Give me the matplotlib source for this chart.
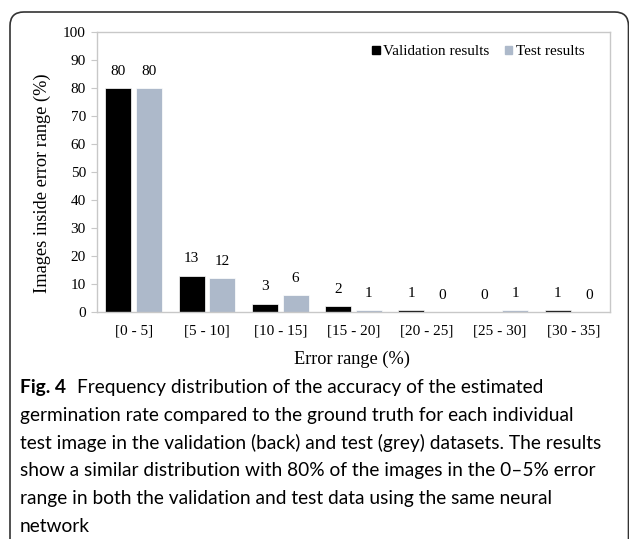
import matplotlib
matplotlib.use("Agg")
import matplotlib.pyplot as plt
import numpy as np
from matplotlib.patches import FancyBboxPatch, Patch

# data
categories = ["[0 - 5]", "[5 - 10]", "[10 - 15]", "[15 - 20]", "[20 - 25]", "[25 - 30]", "[30 - 35]"]
validation = [80, 13, 3, 2, 0.7, 0, 0.7]
test = [80, 12, 6, 0.6, 0, 0.6, 0]
validation_labels = ["80", "13", "3", "2", "1", "0", "1"]
test_labels = ["80", "12", "6", "1", "0", "1", "0"]

caption_lines = [
    "Frequency distribution of the accuracy of the estimated",
    "germination rate compared to the ground truth for each individual",
    "test image in the validation (back) and test (grey) datasets. The results",
    "show a similar distribution with 80% of the images in the 0\u20135% error",
    "range in both the validation and test data using the same neural",
    "network",
]

W, H = 629, 539
fig = plt.figure(figsize=(W / 100, H / 100), dpi=100)

# rounded frame around the whole figure
frame = FancyBboxPatch((10 / W, -0.2), (618.5 / W), 1.2 - 12 / H,
                       boxstyle="round,pad=0,rounding_size=0.022",
                       transform=fig.transFigure, fill=False,
                       edgecolor="#333333", linewidth=1.2, mutation_aspect=W / H)
fig.patches.append(frame)

serif = "Liberation Serif"
fs = 11
ax = fig.add_axes([97 / W, 1 - 312 / H, 513 / W, 280 / H])

x = np.arange(len(categories))
bw = 0.355
off = 0.21
b1 = ax.bar(x - off, validation, bw, color="#000000", edgecolor="white", linewidth=0.5)
b2 = ax.bar(x + off, test, bw, color="#adb9ca", edgecolor="white", linewidth=0.5)

for bars, labels in ((b1, validation_labels), (b2, test_labels)):
    for rect, lab in zip(bars, labels):
        ax.annotate(lab, (rect.get_x() + rect.get_width() / 2, rect.get_height()),
                    xytext=(0, 12), textcoords="offset points",
                    ha="center", va="center", family=serif, fontsize=fs)

ax.set_xlim(-0.5, len(categories) - 0.5)
ax.set_ylim(0, 100)
ax.set_yticks(range(0, 101, 10))
ax.set_xticks(x)
ax.set_xticklabels(categories)
for lab in ax.get_xticklabels() + ax.get_yticklabels():
    lab.set_family(serif)
    lab.set_fontsize(fs)
ax.tick_params(axis="x", length=0, pad=9)
ax.tick_params(axis="y", length=4, color="#c8c8c8", pad=4)
for s in ax.spines.values():
    s.set_color("#c8c8c8")
    s.set_linewidth(1.0)

ax.set_ylabel("Images inside error range (%)", family=serif, fontsize=13.2)
ax.yaxis.set_label_coords(-0.09, 0.46)
ax.set_xlabel("Error range (%)", family=serif, fontsize=13.2)
ax.xaxis.set_label_coords(0.497, -0.138)

handles = [Patch(color="#000000"), Patch(color="#adb9ca")]
ax.legend(handles, ["Validation results", "Test results"], ncol=2, frameon=False,
          loc="upper right", bbox_to_anchor=(0.972, 0.99),
          prop={"family": serif, "size": fs}, handlelength=0.5, handleheight=0.5,
          handletextpad=0.25, columnspacing=1.0, borderaxespad=0.3)

# caption
cap_font = "Lato"
cap_size = 13.8
y0 = 1 - 388 / H
step = 27.6 / H
t = fig.text(20 / W, y0, "Fig. 4", family=cap_font, fontsize=cap_size,
             fontweight="bold", va="center", ha="left")
ax.annotate(caption_lines[0], xy=(1, 0.5), xycoords=t, xytext=(8, 0),
            textcoords="offset points", va="center", ha="left",
            family=cap_font, fontsize=cap_size, annotation_clip=False)
for i, line in enumerate(caption_lines[1:], start=1):
    fig.text(20 / W, y0 - i * step, line, family=cap_font, fontsize=cap_size,
             va="center", ha="left")

fig.savefig("out.png", dpi=100)
